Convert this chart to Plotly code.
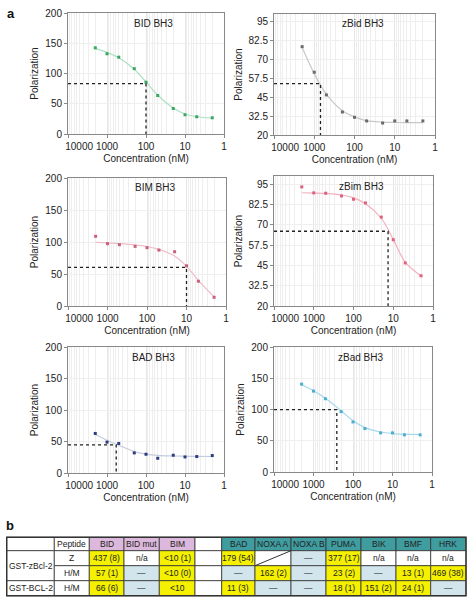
import plotly.graph_objects as go

# ---------------- data ----------------
conc = [2000, 1000, 500, 200, 100, 50, 20, 10, 5, 2]

panel_titles = ["BID BH3", "zBid BH3", "BIM BH3", "zBim BH3", "BAD BH3", "zBad BH3"]

bid_pts = [142.5, 132.6, 127.0, 108.0, 85.5, 63.6, 42.2, 31.8, 28.5, 26.8]
bid_fit = [141, 135, 126, 107, 86, 64, 43, 33, 28.5, 26.5]
zbid_pts = [78.4, 61.5, 46.5, 35.2, 31.7, 29.3, 27.9, 29.3, 29.3, 29.3]
zbid_fit = [78, 60.5, 47, 36, 32, 29.5, 28.5, 28.3, 28.2, 28.2]
bim_pts = [108.9, 97.4, 95.8, 93.2, 91.1, 87.4, 84.8, 62.8, 38.7, 13.6]
bim_fit = [99.5, 98.5, 97.5, 95.5, 93, 88.5, 78, 62, 40, 14]
zbim_pts = [93.3, 89.6, 89.4, 87.7, 85.7, 83.4, 74.7, 60.8, 46.5, 38.6]
zbim_fit = [89.7, 89.5, 89.2, 88.3, 86.5, 83, 74, 61, 47, 38.5]
bad_pts = [62.8, 49.0, 46.9, 31.9, 29.8, 23.4, 28.2, 25.5, 26.1, 27.7]
bad_fit = [61, 52, 44, 34, 30, 28, 27, 26.5, 26.3, 26.2]
zbad_pts = [140.6, 129.4, 117.2, 96.6, 80.1, 69.5, 62.6, 62.6, 59.4, 59.4]
zbad_fit = [140, 130, 118, 98, 82, 71, 64, 61.5, 60.5, 60]

ic50_conc = [100, 700, 10, 13.5, 580, 257]
ic50_pol = [83.3, 54.0, 60.2, 66.0, 44.7, 99.7]

y_ranges = [(0, 200), (20, 100), (0, 200), (20, 100), (0, 200), (0, 200)]
y_ticks_big = [0, 50, 100, 150, 200]
y_ticks_small = [20, 32.5, 45, 57.5, 70, 82.5, 95]

x_tick_vals = [10000, 1000, 100, 10, 1]
x_tick_text = ["10000", "1000", "100", "10", "1"]

# table data
tbl_header = ["", "Peptide", "BID", "BID mut", "BIM", "", "BAD", "NOXA A", "NOXA B",
              "PUMA", "BIK", "BMF", "HRK"]
tbl_proteins = ["GST-zBcl-2", "GST-BCL-2"]
tbl_forms = ["Z", "H/M", "H/M"]
tbl_row1 = ["437 (8)", "n/a", "<10 (1)", "", "179 (54)", "", "—", "377 (17)", "n/a", "n/a", "n/a"]
tbl_row2 = ["57 (1)", "—", "<10 (0)", "", "—", "162 (2)", "—", "23 (2)", "—", "13 (1)", "469 (38)"]
tbl_row3 = ["66 (6)", "—", "<10", "", "11 (3)", "—", "—", "18 (1)", "151 (2)", "24 (1)", "—"]

# ---------------- styles / layout ----------------
W, H = 471, 600
FONT = "Arial, Liberation Sans, sans-serif"
pt_colors = ["#3aa660", "#6a6a6a", "#c8607a", "#e0607a", "#2c3c7c", "#4aaed0"]
fit_colors = ["#aee0c4", "#c8c8c8", "#f0bccb", "#f3b0bf", "#c4cbdc", "#a6d8ea"]
boxes = [(68, 224, 13, 134), (274, 435, 14, 135), (68, 226, 178, 306),
         (274, 433, 176, 306), (68, 224, 347, 473), (274, 432, 347, 472)]

pts_list = [bid_pts, zbid_pts, bim_pts, zbim_pts, bad_pts, zbad_pts]
fit_list = [bid_fit, zbid_fit, bim_fit, zbim_fit, bad_fit, zbad_fit]

# first label sits right of the axis start, as in the original
NBSP = "\u00a0" * 8
x_tick_disp = [NBSP + x_tick_text[0]] + x_tick_text[1:]

fig = go.Figure()
layout = dict(width=W, height=H, autosize=False, margin=dict(l=0, r=0, t=0, b=0, pad=0),
              paper_bgcolor="white", plot_bgcolor="white", showlegend=False,
              font=dict(family=FONT, size=10, color="#222"))
annotations = []
shapes = []

for i in range(6):
    k = "" if i == 0 else str(i + 1)
    xa, ya = "x" + k, "y" + k
    x0, x1, y0, y1 = boxes[i]
    ymin, ymax = y_ranges[i]
    # fit curve
    fig.add_trace(go.Scatter(x=conc, y=fit_list[i], mode="lines", xaxis=xa, yaxis=ya,
                             line=dict(color=fit_colors[i], width=1.2, shape="spline")))
    # points
    fig.add_trace(go.Scatter(x=conc, y=pts_list[i], mode="markers", xaxis=xa, yaxis=ya,
                             marker=dict(color=pt_colors[i], size=3, symbol="square")))
    # IC50 guides
    fig.add_trace(go.Scatter(x=[10000, ic50_conc[i], ic50_conc[i]],
                             y=[ic50_pol[i], ic50_pol[i], ymin], mode="lines",
                             xaxis=xa, yaxis=ya,
                             line=dict(color="#222", width=1.3, dash="dot")))
    layout["xaxis" + k] = dict(
        type="log", range=[4, 0], domain=[x0 / W, x1 / W], anchor=ya, automargin=False,
        tickvals=x_tick_vals, ticktext=x_tick_disp, ticks="outside", ticklen=3,
        tickcolor="#888", showgrid=True, gridcolor="#e6e6e6", gridwidth=1,
        minor=dict(showgrid=True, gridcolor="#eeeeee", gridwidth=1, dtick="D1", ticks=""),
        showline=True, linecolor="#888", linewidth=1, mirror=True, zeroline=False,
        tickfont=dict(size=10, color="#222"),
        title=dict(text="Concentration (nM)", font=dict(size=10, color="#222"), standoff=3))
    tv = y_ticks_big if ymax == 200 else y_ticks_small
    layout["yaxis" + k] = dict(
        range=[ymin, ymax], domain=[1 - y1 / H, 1 - y0 / H], anchor=xa, automargin=False,
        tickvals=tv, ticktext=[("%g" % v) for v in tv], ticks="outside", ticklen=3,
        tickcolor="#888", showgrid=True, gridcolor="#efefef",
        showline=True, linecolor="#888", linewidth=1, mirror=True, zeroline=False,
        tickfont=dict(size=10, color="#222"),
        title=dict(text="Polarization", font=dict(size=10, color="#222"), standoff=4))
    annotations.append(dict(text=panel_titles[i], xref=xa + " domain", yref=ya + " domain",
                            x=0.55, y=1 - 10 / (y1 - y0), xanchor="center", yanchor="middle",
                            showarrow=False, font=dict(size=10, color="#222")))

annotations.append(dict(text="<b>a</b>", xref="paper", yref="paper", x=11 / W, y=1 - 13 / H,
                        xanchor="center", yanchor="middle", showarrow=False,
                        font=dict(size=13, color="#111")))
annotations.append(dict(text="<b>b</b>", xref="paper", yref="paper", x=10 / W, y=1 - 525 / H,
                        xanchor="center", yanchor="middle", showarrow=False,
                        font=dict(size=13, color="#111")))

# ---------------- table ----------------
col_edges = [6.7, 54.3, 89.3, 124, 159.3, 195, 221.7, 255, 291, 326, 361, 396, 430.7, 466]
row_edges = [537.3, 550.7, 565.7, 580.7, 595.7]
YELLOW, BLUE, WHITE = "#f4f000", "#d2e4ec", "#ffffff"
PINK, TEAL = "#dcb8dc", "#3f9c9f"
LINE = "#333333"


def px(x):
    return x / W


def py(y):
    return 1 - y / H


def cell(c0, c1, r0, r1, fill, text):
    shapes.append(dict(type="rect", xref="paper", yref="paper",
                       x0=px(col_edges[c0]), x1=px(col_edges[c1]),
                       y0=py(row_edges[r1]), y1=py(row_edges[r0]),
                       fillcolor=fill, line=dict(color=LINE, width=0.8), layer="above"))
    if text:
        annotations.append(dict(text=text, xref="paper", yref="paper",
                                x=px((col_edges[c0] + col_edges[c1]) / 2),
                                y=py((row_edges[r0] + row_edges[r1]) / 2),
                                xanchor="center", yanchor="middle", showarrow=False,
                                font=dict(size=8.5, color="#222")))


def fill_for(t):
    if t == "—":
        return BLUE
    if t and t != "n/a":
        return YELLOW
    return WHITE


# header
for c, t in enumerate(tbl_header):
    if 2 <= c <= 4:
        f = PINK
    elif c >= 6:
        f = TEAL
    else:
        f = WHITE
    cell(c, c + 1, 0, 1, f, t)

# first column (merged for zBcl-2)
cell(0, 1, 1, 3, WHITE, tbl_proteins[0])
cell(0, 1, 3, 4, WHITE, tbl_proteins[1])
for r, t in enumerate(tbl_forms):
    cell(1, 2, r + 1, r + 2, WHITE, t)
for r, row in enumerate([tbl_row1, tbl_row2, tbl_row3]):
    for j, t in enumerate(row):
        c = j + 2
        cell(c, c + 1, r + 1, r + 2, fill_for(t), t)

# diagonal in NOXA A / Z cell
noxa_c = tbl_header.index("NOXA A")
shapes.append(dict(type="line", xref="paper", yref="paper",
                   x0=px(col_edges[noxa_c]), x1=px(col_edges[noxa_c + 1]),
                   y0=py(row_edges[2]), y1=py(row_edges[1]),
                   line=dict(color=LINE, width=1), layer="above"))
# outer border
shapes.append(dict(type="rect", xref="paper", yref="paper",
                   x0=px(col_edges[0]), x1=px(col_edges[-1]),
                   y0=py(row_edges[-1]), y1=py(row_edges[0]),
                   line=dict(color=LINE, width=1.4), layer="above"))

layout["annotations"] = annotations
layout["shapes"] = shapes
fig.update_layout(**layout)
fig.write_html("out.html", config=dict(responsive=False, displayModeBar=False),
               post_script="document.body.style.margin='0';document.body.style.overflow='hidden';")
